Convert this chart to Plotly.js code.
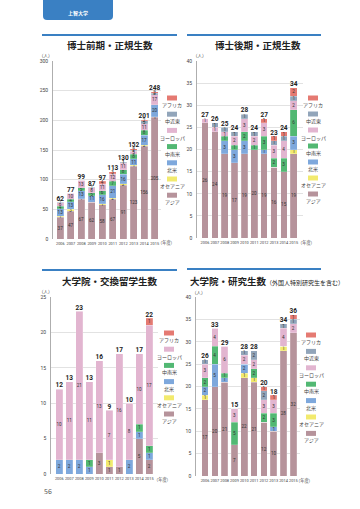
<!DOCTYPE html>
<html><head><meta charset="utf-8">
<script src="https://cdn.plot.ly/plotly-3.0.1.min.js"></script>
<style>html,body{margin:0;padding:0;background:#fff}#chart{width:360px;height:509px}</style>
</head><body><div id="chart"></div>
<script>
// ---- data ----
const years = ['2006','2007','2008','2009','2010','2011','2012','2013','2014','2015'];
const regions = ['アジア','オセアニア','北米','中南米','ヨーロッパ','中近東','アフリカ'];
const regionColors = ['#b6939b','#f2ea6e','#7ea8dc','#52b873','#e2b5d0','#92a5ba','#e57a72'];

// 博士前期・正規生数
const c1_asia  = [37,47,67,62,58,67,91,123,156,205];
const c1_oce   = [1,3,1,0,1,2,2,1,2,1];
const c1_na    = [13,13,13,11,16,21,16,11,17,20];
const c1_latam = [4,4,5,5,6,7,8,8,8,0];
const c1_eur   = [6,10,13,8,11,12,11,5,11,17];
const c1_me    = [1,0,0,1,1,1,1,2,5,3];
const c1_afr   = [0,0,0,0,4,3,1,2,2,2];

// 博士後期・正規生数
const c2_asia  = [26,24,19,17,19,20,19,16,15,19];
const c2_oce   = [0,0,0,0,0,0,0,0,0,1];
const c2_na    = [0,0,3,3,3,0,1,0,0,3];
const c2_latam = [0,0,1,1,2,1,3,2,3,6];
const c2_eur   = [1,1,1,2,3,2,3,3,4,2];
const c2_me    = [0,1,1,1,1,1,0,1,1,1];
const c2_afr   = [0,0,0,0,0,0,1,1,1,2];

// 大学院・交換留学生数
const c3_asia  = [0,0,0,0,3,1,1,0,5,2];
const c3_oce   = [0,0,0,0,0,1,0,0,0,0];
const c3_na    = [2,2,2,1,0,0,0,2,1,1];
const c3_latam = [0,0,0,1,0,0,0,0,1,1];
const c3_eur   = [10,11,21,11,13,7,16,8,10,17];
const c3_me    = [0,0,0,0,0,0,0,0,0,0];
const c3_afr   = [0,0,0,0,0,0,0,0,0,1];

// 大学院・研究生数
const c4_asia  = [17,20,21,7,22,21,12,10,28,32];
const c4_oce   = [1,0,0,0,1,1,0,0,1,0];
const c4_na    = [2,5,1,0,2,0,0,1,0,0];
const c4_latam = [2,4,1,5,0,2,2,3,0,0];
const c4_eur   = [3,4,6,3,2,2,3,3,4,2];
const c4_me    = [1,0,0,0,1,2,2,0,1,1];
const c4_afr   = [0,0,0,0,0,0,1,1,0,1];

const titles = ['博士前期・正規生数','博士後期・正規生数','大学院・交換留学生数','大学院・研究生数'];
const subTitle4 = '（外国人特別研究生を含む）';
const yMax = [300,40,25,40];
const yStep = [50,5,5,5];

// ---- helpers ----
const W=360,H=509;
const px = x => x/W;
const py = y => 1 - y/H;
const FONT = '"Noto Sans CJK JP", "Noto Sans", sans-serif';
const NUMFONT = 'Roboto, "Noto Sans", sans-serif';

const charts = [
  {series:[c1_asia,c1_oce,c1_na,c1_latam,c1_eur,c1_me,c1_afr], legend:[6,5,4,3,2,1,0],
   xd:[53,161], yd:[61,239], xr:[-0.7,9.6],
   title:{x:110,y:45}, line:[42,177,35], unit:{x:46,y:55}, nendo:{x:166,y:243},
   leg:{x:172,y0:98,dy:16.2}},
  {series:[c2_asia,c2_oce,c2_na,c2_latam,c2_eur,c2_me,c2_afr], legend:[6,5,4,3,2,1,0],
   xd:[197,303], yd:[61,238], xr:[-0.81,9.94],
   title:{x:258,y:45}, line:[187,321,35], unit:{x:200,y:55}, nendo:{x:306,y:243},
   leg:{x:313,y0:98,dy:16}},
  {series:[c3_asia,c3_oce,c3_na,c3_latam,c3_eur,c3_me,c3_afr], legend:[6,4,3,2,1,0],
   xd:[51,158], yd:[297,474], xr:[-0.83,9.87],
   title:{x:110,y:281}, line:[42,177,270], unit:{x:46,y:291}, nendo:{x:162,y:479},
   leg:{x:169,y0:333,dy:16.2}},
  {series:[c4_asia,c4_oce,c4_na,c4_latam,c4_eur,c4_me,c4_afr], legend:[6,5,4,3,2,1,0],
   xd:[196,300], yd:[297,476], xr:[-0.92,9.68],
   title:{x:188,y:281}, line:[187,321,269], unit:{x:199,y:291.5}, nendo:{x:304,y:480},
   leg:{x:311,y0:335,dy:16.4}}
];

const traces=[], annotations=[], shapes=[];
const layout = {
  width:W, height:H, margin:{l:0,r:0,t:0,b:0},
  paper_bgcolor:'#fff', plot_bgcolor:'rgba(0,0,0,0)',
  barmode:'stack', bargap:0.33, showlegend:false,
  font:{family:FONT, color:'#333'},
  uniformtext:{minsize:4.6, mode:'show'}
};

charts.forEach((c,i)=>{
  const n = i+1, sx = n===1?'':n;
  const xa='x'+sx, ya='y'+sx;
  c.series.forEach((vals,k)=>{
    if (i===2 && k===5) return; // no 中近東 in exchange chart
    traces.push({
      type:'bar', x:years, y:vals, xaxis:xa, yaxis:ya,
      name:regions[k],
      marker:{color:regionColors[k], line:{color:'rgba(255,255,255,0.6)', width:0.3}},
      text: vals.map(v=>v>0?String(v):''),
      textposition:'inside', insidetextanchor:'middle', textangle:0,
      textfont:{size:4.6, color:'#333', family:NUMFONT},
      hoverinfo:'skip'
    });
  });
  const totals = years.map((_,j)=>c.series.reduce((s,arr)=>s+arr[j],0));
  traces.push({
    type:'scatter', mode:'text', x:years, y:totals, xaxis:xa, yaxis:ya,
    text: totals.map(String), textposition:'top center',
    textfont:{size:6.5, color:'#222', family:NUMFONT, weight:'bold'},
    cliponaxis:false, hoverinfo:'skip'
  });
  layout['xaxis'+sx] = {
    domain:[px(c.xd[0]),px(c.xd[1])], anchor:ya, type:'category', range:c.xr,
    showgrid:false, showline:false, zeroline:false, ticks:'', tickangle:0,
    tickfont:{size:3.9, color:'#444', family:NUMFONT}, ticklabelstandoff:1, fixedrange:true
  };
  layout['yaxis'+sx] = {
    domain:[py(c.yd[1]),py(c.yd[0])], anchor:xa, range:[0,yMax[i]], dtick:yStep[i],
    showgrid:true, gridcolor:'#cfcfcf', gridwidth:0.6,
    showline:true, linecolor:'#9a9a9a', linewidth:0.8, zeroline:false,
    ticks:'', tickfont:{size:5, color:'#444', family:NUMFONT}, ticklabelstandoff:3, fixedrange:true
  };
  // title
  if (i===3) {
    annotations.push({xref:'paper',yref:'paper',x:px(c.title.x),y:py(c.title.y),xanchor:'left',yanchor:'middle',
      text:'<b>'+titles[i]+'</b><span style="font-size:6px">'+subTitle4+'</span>', showarrow:false,
      font:{size:9.5,color:'#222',family:FONT}});
  } else {
    annotations.push({xref:'paper',yref:'paper',x:px(c.title.x),y:py(c.title.y),xanchor:'center',yanchor:'middle',
      text:'<b>'+titles[i]+'</b>', showarrow:false, font:{size:9.5,color:'#222',family:FONT}});
  }
  shapes.push({type:'line',xref:'paper',yref:'paper',x0:px(c.line[0]),x1:px(c.line[1]),y0:py(c.line[2]),y1:py(c.line[2]),
    line:{color:'#3a80c3',width:2}});
  annotations.push({xref:'paper',yref:'paper',x:px(c.unit.x),y:py(c.unit.y),xanchor:'center',yanchor:'middle',
    text:'（人）',showarrow:false,font:{size:4.5,color:'#444',family:FONT}});
  annotations.push({xref:'paper',yref:'paper',x:px(c.nendo.x),y:py(c.nendo.y),xanchor:'center',yanchor:'middle',
    text:'（年度）',showarrow:false,font:{size:4.2,color:'#444',family:FONT}});
  // legend
  c.legend.forEach((k,m)=>{
    const yy = c.leg.y0 + m*c.leg.dy;
    shapes.push({type:'rect',xref:'paper',yref:'paper',x0:px(c.leg.x-5),x1:px(c.leg.x+5),y0:py(yy-2.5),y1:py(yy+2.5),
      fillcolor:regionColors[k], line:{width:0}});
    annotations.push({xref:'paper',yref:'paper',x:px(c.leg.x),y:py(yy+7),xanchor:'center',yanchor:'middle',
      text:regions[k],showarrow:false,font:{size:5,color:'#444',family:FONT}});
  });
});

// header tab
shapes.push({type:'path',xref:'paper',yref:'paper',
  path:`M ${px(43)} ${py(0)} L ${px(43)} ${py(16)} Q ${px(43)} ${py(20)} ${px(47)} ${py(20)} L ${px(109)} ${py(20)} Q ${px(113)} ${py(20)} ${px(113)} ${py(16)} L ${px(113)} ${py(0)} Z`,
  fillcolor:'#3a80c3', line:{width:0}});
annotations.push({xref:'paper',yref:'paper',x:px(78),y:py(13),xanchor:'center',yanchor:'middle',
  text:'<b>上智大学</b>',showarrow:false,font:{size:5,color:'#fff',family:FONT}});
// page number
annotations.push({xref:'paper',yref:'paper',x:px(42),y:py(491),xanchor:'left',yanchor:'middle',
  text:'56',showarrow:false,font:{size:7,color:'#555',family:FONT}});

layout.annotations = annotations;
layout.shapes = shapes;
Plotly.newPlot('chart', traces, layout, {staticPlot:true, displayModeBar:false});
</script></body></html>
